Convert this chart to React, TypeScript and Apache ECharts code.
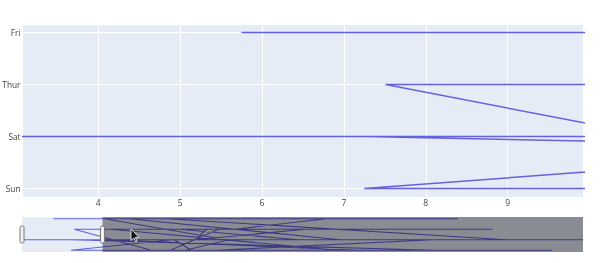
import React, { useEffect, useRef } from "react";
import * as echarts from "echarts";

const dayCategories = ["Sun", "Sat", "Thur", "Fri"];

const totalBill = [
  16.99, 10.34, 21.01, 23.68, 24.59, 25.29, 8.77, 26.88, 15.04, 14.78, 10.27, 35.26, 15.42, 18.43, 14.83, 21.58, 10.33, 16.29, 16.97,
  20.65, 17.92, 20.29, 15.77, 39.42, 19.82, 17.81, 13.37, 12.69, 21.7, 19.65, 9.55, 18.35, 15.06, 20.69, 17.78, 24.06, 16.31, 16.93, 18.69, 31.27, 16.04,
  17.46, 13.94, 9.68, 30.4, 18.29, 22.23, 32.4, 28.55, 18.04, 12.54, 10.29, 34.81, 9.94, 25.56, 19.49,
  38.01, 26.41, 11.24, 48.27, 20.29, 13.81, 11.02, 18.29, 17.59, 20.08, 16.45, 3.07, 20.23, 15.01, 12.02, 17.07, 26.86, 25.28, 14.73, 10.51, 17.92,
  27.2, 22.76, 17.29, 19.44, 16.66, 10.07, 32.68, 15.98, 34.83, 13.03, 18.28, 24.71, 21.16,
  28.97, 22.49, 5.75, 16.32, 22.75, 40.17, 27.28, 12.03, 21.01, 12.46, 11.35, 15.38,
  44.3, 22.42, 20.92, 15.36, 20.49, 25.21, 18.24, 14.31, 14.0, 7.25,
  38.07, 23.95, 25.71, 17.31, 29.93,
  10.65, 12.43, 24.08, 11.69, 13.42, 14.26, 15.95, 12.48, 29.8, 8.52, 14.52, 11.38, 22.82, 19.08, 20.27, 11.17, 12.26, 18.26, 8.51, 10.33, 14.15, 16.0, 13.16, 17.47, 34.3, 41.19, 27.05, 16.43, 8.35, 18.64, 11.87, 9.78, 7.51,
  14.07, 13.13, 17.26, 24.55, 19.77, 29.85, 48.17, 25.0, 13.39, 16.49, 21.5, 12.66, 16.21, 13.81, 17.51, 24.52, 20.76, 31.71,
  10.59, 10.63, 50.81, 15.81,
  7.25, 31.85, 16.82, 32.9, 17.89, 14.48, 9.6, 34.63, 34.65, 23.33, 45.35, 23.17, 40.55, 20.69, 20.9, 30.46, 18.15, 23.1, 15.69,
  19.81, 28.44, 15.48, 16.58, 7.56, 10.34, 43.11, 13.0, 13.51, 18.71, 12.74, 13.0, 16.4, 20.53, 16.47,
  26.59, 38.73, 24.27, 12.76, 30.06, 25.89, 48.33, 13.27, 28.17, 12.9, 28.15, 11.59, 7.74, 30.14,
  12.16, 13.42, 8.58, 15.98, 13.42, 16.27, 10.09,
  20.45, 13.28, 22.12, 24.01, 15.69, 11.61, 10.77, 15.53, 10.07, 12.6, 32.83, 35.83, 29.03, 27.18, 22.67, 17.82,
  18.78,
];

const day = [
  "Sun", "Sun", "Sun", "Sun", "Sun", "Sun", "Sun", "Sun", "Sun", "Sun", "Sun", "Sun", "Sun", "Sun", "Sun", "Sun", "Sun", "Sun", "Sun",
  "Sat", "Sat", "Sat", "Sat", "Sat", "Sat", "Sat", "Sat", "Sat", "Sat", "Sat", "Sat", "Sat", "Sat", "Sat", "Sat", "Sat", "Sat", "Sat", "Sat", "Sat", "Sat",
  "Sun", "Sun", "Sun", "Sun", "Sun", "Sun", "Sun", "Sun", "Sun", "Sun", "Sun", "Sun", "Sun", "Sun", "Sun",
  "Sat", "Sat", "Sat", "Sat", "Sat", "Sat", "Sat", "Sat", "Sat", "Sat", "Sat", "Sat", "Sat", "Sat", "Sat", "Sat", "Sat", "Sat", "Sat", "Sat", "Sat",
  "Thur", "Thur", "Thur", "Thur", "Thur", "Thur", "Thur", "Thur", "Thur", "Thur", "Thur", "Thur", "Thur",
  "Fri", "Fri", "Fri", "Fri", "Fri", "Fri", "Fri", "Fri", "Fri", "Fri", "Fri", "Fri",
  "Sat", "Sat", "Sat", "Sat", "Sat", "Sat", "Sat", "Sat", "Sat", "Sat",
  "Sun", "Sun", "Sun", "Sun", "Sun",
  "Thur", "Thur", "Thur", "Thur", "Thur", "Thur", "Thur", "Thur", "Thur", "Thur", "Thur", "Thur", "Thur", "Thur", "Thur", "Thur", "Thur", "Thur", "Thur", "Thur", "Thur", "Thur", "Thur", "Thur", "Thur", "Thur", "Thur", "Thur", "Thur", "Thur", "Thur", "Thur", "Thur",
  "Sun", "Sun", "Sun", "Sun", "Sun", "Sun", "Sun", "Sun", "Sun", "Sun", "Sun", "Sun", "Sun", "Sun", "Sun", "Sun", "Sun", "Sun",
  "Sat", "Sat", "Sat", "Sat",
  "Sun", "Sun", "Sun", "Sun", "Sun", "Sun", "Sun", "Sun", "Sun", "Sun", "Sun", "Sun", "Sun", "Sun", "Sun", "Sun", "Sun", "Sun", "Sun",
  "Thur", "Thur", "Thur", "Thur", "Thur", "Thur", "Thur", "Thur", "Thur", "Thur", "Thur", "Thur", "Thur", "Thur", "Thur",
  "Sat", "Sat", "Sat", "Sat", "Sat", "Sat", "Sat", "Sat", "Sat", "Sat", "Sat", "Sat", "Sat", "Sat",
  "Fri", "Fri", "Fri", "Fri", "Fri", "Fri", "Fri",
  "Sat", "Sat", "Sat", "Sat", "Sat", "Sat", "Sat", "Sat", "Sat", "Sat", "Sat", "Sat", "Sat", "Sat", "Sat", "Sat",
  "Thur",
];

// visible x range of the main plot (selected range of the range slider)
const selectedRange = [3.07, 9.92];
// full range shown in the range slider
const fullRange = [3.07, 50.81];
const yRange = [-0.165, 3.165];

const LINE = "#6661dc";
const BG = "#E5ECF6";

export default function App() {
  const ref = useRef<HTMLDivElement>(null);

  useEffect(() => {
    document.body.style.margin = "0";
    const chart = echarts.init(ref.current!, undefined, { renderer: "svg" });
    const points = totalBill.map((x, i) => [x, dayCategories.indexOf(day[i])]);
    const fmt = (v: number) => {
      const r = Math.round(v);
      return Math.abs(v - r) < 1e-6 && r >= 0 && r < dayCategories.length ? dayCategories[r] : "";
    };
    chart.setOption({
      animation: false,
      textStyle: { fontFamily: "Open Sans" },
      grid: [
        { left: 22, top: 24, width: 561, height: 173, show: true, backgroundColor: BG, borderWidth: 0, containLabel: false, outerBoundsMode: "none" },
        { left: 22, top: 217, width: 561, height: 35, show: true, backgroundColor: BG, borderWidth: 0, containLabel: false, outerBoundsMode: "none" },
      ],
      xAxis: [
        {
          type: "value",
          gridIndex: 0,
          min: selectedRange[0],
          max: selectedRange[1],
          splitNumber: 6,
          axisLine: { show: false },
          axisTick: { show: false },
          axisLabel: { fontSize: 8.5, color: "#444", margin: 1, showMinLabel: false, showMaxLabel: false },
          splitLine: { show: true, lineStyle: { color: "#ffffff", width: 1 } },
        },
        {
          type: "value",
          gridIndex: 1,
          min: fullRange[0],
          max: fullRange[1],
          axisLine: { show: false },
          axisTick: { show: false },
          axisLabel: { show: false },
          splitLine: { show: false },
        },
      ],
      yAxis: [
        {
          type: "value",
          gridIndex: 0,
          min: yRange[0],
          max: yRange[1],
          splitNumber: 3,
          axisLine: { show: false },
          axisTick: { show: false },
          axisLabel: { fontSize: 8.3, color: "#444", margin: 1.5, showMinLabel: false, showMaxLabel: false, formatter: fmt },
          splitLine: { show: true, lineStyle: { color: "#ffffff", width: 1 } },
        },
        {
          type: "value",
          gridIndex: 1,
          min: yRange[0],
          max: yRange[1],
          axisLine: { show: false },
          axisTick: { show: false },
          axisLabel: { show: false },
          splitLine: { show: false },
        },
      ],
      series: [
        {
          type: "line",
          xAxisIndex: 0,
          yAxisIndex: 0,
          data: points,
          showSymbol: false,
          clip: true,
          lineStyle: { color: LINE, width: 1.5 },
          itemStyle: { color: LINE },
        },
        {
          type: "line",
          xAxisIndex: 1,
          yAxisIndex: 1,
          data: points,
          showSymbol: false,
          clip: true,
          lineStyle: { color: LINE, width: 1.2 },
          itemStyle: { color: LINE },
        },
      ],
    });

    const x0 = chart.convertToPixel({ xAxisIndex: 1 }, selectedRange[0]) as number;
    const x1 = chart.convertToPixel({ xAxisIndex: 1 }, selectedRange[1]) as number;
    const xEnd = chart.convertToPixel({ xAxisIndex: 1 }, fullRange[1]) as number;
    const yTop = chart.convertToPixel({ yAxisIndex: 1 }, yRange[1]) as number;
    const yBot = chart.convertToPixel({ yAxisIndex: 1 }, yRange[0]) as number;
    const yMid = (yTop + yBot) / 2;
    const hw = 4;
    const hh = 17;
    chart.setOption({
      graphic: [
        {
          type: "rect",
          z: 100,
          silent: true,
          shape: { x: x1, y: yTop, width: xEnd - x1, height: yBot - yTop },
          style: { fill: "rgba(0,0,0,0.4)" },
        },
        {
          type: "rect",
          z: 101,
          silent: true,
          shape: { x: x0 - hw / 2, y: yMid - hh / 2, width: hw, height: hh, r: 1.5 },
          style: { fill: "#f2f2f2", stroke: "#777", lineWidth: 1 },
        },
        {
          type: "rect",
          z: 101,
          silent: true,
          shape: { x: x1 - hw / 2, y: yMid - hh / 2, width: hw, height: hh, r: 1.5 },
          style: { fill: "#f2f2f2", stroke: "#777", lineWidth: 1 },
        },
        {
          type: "polygon",
          z: 102,
          silent: true,
          x: 131,
          y: 229,
          shape: {
            points: [[0, 0], [0, 11.5], [2.8, 9], [4.6, 12.8], [6, 12.1], [4.3, 8.5], [7.8, 8.3]],
          },
          style: { fill: "#111", stroke: "#fff", lineWidth: 0.8 },
        },
      ],
    });

    return () => chart.dispose();
  }, []);

  return <div ref={ref} style={{ position: "fixed", left: 0, top: 0, width: 600, height: 263 }} />;
}
